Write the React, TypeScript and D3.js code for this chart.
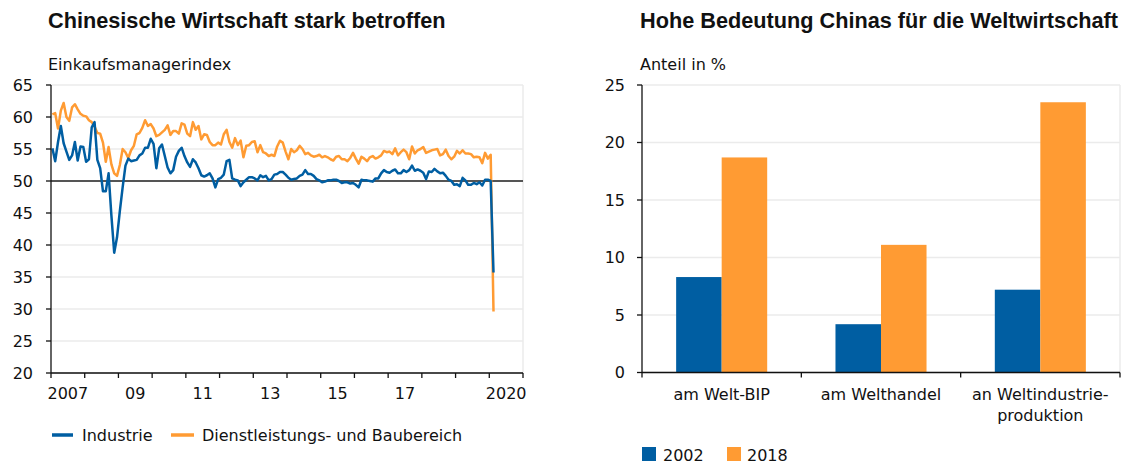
import React from 'react';
import * as d3 from 'd3';

// ---------- Left chart data (monthly, Jan 2007 – Feb 2020) ----------
const startYear = 2007;
const industrie = [
  55.1, 53.1, 56.1, 58.6, 55.9, 54.6, 53.3, 54.0, 56.1, 53.2, 55.4, 55.3,
  53.0, 53.4, 58.4, 59.2, 53.3, 52.0, 48.4, 48.4, 51.2, 44.6, 38.8, 41.2,
  45.3, 49.0, 52.4, 53.5, 53.1, 53.2, 53.3, 54.0, 54.3, 55.2, 55.2, 56.6,
  55.8, 52.0, 55.1, 55.7, 53.9, 52.1, 51.2, 51.7, 53.8, 54.7, 55.2, 53.9,
  52.9, 52.2, 53.4, 52.9, 52.0, 50.9, 50.7, 50.9, 51.2, 50.4, 49.0, 50.3,
  50.5, 51.0, 53.1, 53.3, 50.4, 50.2, 50.1, 49.2, 49.8, 50.2, 50.6, 50.6,
  50.4, 50.1, 50.9, 50.6, 50.8, 50.1, 50.3, 51.0, 51.1, 51.4, 51.4, 51.0,
  50.5, 50.2, 50.3, 50.4, 50.8, 51.0, 51.7, 51.1, 51.1, 50.8, 50.3, 50.1,
  49.8, 49.9, 50.1, 50.1, 50.2, 50.2, 50.0, 49.7, 49.8, 49.8, 49.6, 49.7,
  49.4, 49.0, 50.2, 50.1, 50.1, 50.0, 49.9, 50.4, 50.4, 51.2, 51.7, 51.4,
  51.3, 51.6, 51.8, 51.2, 51.2, 51.7, 51.4, 51.7, 52.4, 51.6, 51.8, 51.6,
  51.3, 50.3, 51.5, 51.4, 51.9, 51.5, 51.2, 51.3, 50.8, 50.2, 50.0, 49.4,
  49.5, 49.2, 50.5, 50.1, 49.4, 49.4, 49.7, 49.5, 49.8, 49.3, 50.2, 50.2,
  50.0, 35.7,
];
const dienst = [
  60.4, 60.6, 58.2, 61.0, 62.2, 60.0, 59.4, 61.5, 62.0, 61.2, 60.5, 60.2,
  60.1, 59.5, 59.2, 58.5, 57.5, 57.4, 56.0, 53.0, 55.3, 52.6, 51.2, 50.8,
  52.5, 55.0, 54.5, 53.6, 54.8, 55.5, 57.3, 57.5, 58.3, 59.5, 58.6, 58.9,
  58.2, 57.0, 57.2, 57.6, 58.0, 58.7, 57.2, 57.8, 57.8, 57.4, 59.0, 58.8,
  57.4, 57.0, 59.2, 58.0, 58.6, 56.5, 57.3, 57.2, 56.1, 55.6, 55.6, 56.0,
  55.7, 57.3, 58.0, 56.1, 55.2, 56.7, 55.6, 56.3, 53.7, 55.5, 55.6, 56.1,
  56.2, 54.5, 55.6, 54.5, 54.3, 53.9, 54.1, 53.9, 55.4, 56.3, 56.0, 54.6,
  53.4, 55.0, 54.5, 54.8, 55.5, 55.0, 54.2, 54.4, 54.0, 53.8, 53.9, 54.1,
  53.7, 53.9, 53.7, 53.4, 53.2, 53.8, 53.9, 53.4, 53.4, 53.1, 53.6, 54.4,
  53.5, 52.7, 53.8, 53.5, 53.1, 53.7, 53.9, 53.5, 53.7, 54.0, 54.7, 54.5,
  54.6, 54.2, 55.1, 54.0, 54.5, 54.9, 54.5, 53.4, 55.4, 54.3, 54.8, 55.0,
  55.3, 54.4, 54.6, 54.8, 54.9, 55.0, 54.0, 54.2, 54.9, 53.9, 53.4, 53.8,
  54.7, 54.3, 54.8, 54.3, 54.3, 54.2, 53.7, 53.8, 53.7, 52.8, 54.4, 53.5,
  54.1, 29.6,
];
const leftYTicks = [20, 25, 30, 35, 40, 45, 50, 55, 60, 65];
const xLabelYears = [2007, 2009, 2011, 2013, 2015, 2017, 2020];
const xLabelTexts = ['2007', '09', '11', '13', '15', '17', '2020'];
const lineSeries = ['Industrie', 'Dienstleistungs- und Baubereich'];

// ---------- Right chart data ----------
const categories = ['am Welt-BIP', 'am Welthandel', 'an Weltindustrie-\nproduktion'];
const values2002 = [8.3, 4.2, 7.2];
const values2018 = [18.7, 11.1, 23.5];
const barSeries = ['2002', '2018'];
const rightYTicks = [0, 5, 10, 15, 20, 25];

const BLUE = '#005ea2';
const ORANGE = '#ff9b33';
const GRID = '#ebebeb';
const FONT = "'DejaVu Sans', sans-serif";
const TITLE_FONT = "'Liberation Sans', Arial, sans-serif";

export default function App() {
  // Left scales
  const xL = d3.scaleLinear().domain([2007, 2021]).range([51, 523]);
  const yL = d3.scaleLinear().domain([20, 65]).range([373, 85]);
  const monthX = (i: number) => xL(startYear + (i + 0.5) / 12);
  const line = d3
    .line<number>()
    .x((_, i) => monthX(i))
    .y((d) => yL(d));
  const yearTicks = d3.range(2007, 2022);

  // Right scales
  const yR = d3.scaleLinear().domain([0, 25]).range([372.5, 85]);
  const x0 = d3.scaleBand<string>().domain(categories).range([642, 1120]);
  const x1 = d3
    .scaleBand<string>()
    .domain(barSeries)
    .range([0, x0.bandwidth()])
    .paddingOuter(0.75)
    .paddingInner(0);
  const barVals = [values2002, values2018];
  const barColors = [BLUE, ORANGE];

  return (
    <svg
      width={1121}
      height={464}
      style={{ position: 'absolute', left: 0, top: 0, background: '#fff' }}
      fontFamily={FONT}
    >
      {/* Titles */}
      <text x={48} y={28} fontFamily={TITLE_FONT} fontWeight="bold" fontSize={21.7} fill="#111">
        Chinesische Wirtschaft stark betroffen
      </text>
      <text x={640} y={28} fontFamily={TITLE_FONT} fontWeight="bold" fontSize={21.7} fill="#111">
        Hohe Bedeutung Chinas für die Weltwirtschaft
      </text>
      <text x={48} y={70} fontSize={16} fill="#111">Einkaufsmanagerindex</text>
      <text x={640} y={70} fontSize={16} fill="#111">Anteil in %</text>

      {/* ---------- Left chart ---------- */}
      <g>
        {leftYTicks.map((t) => (
          <line key={'g' + t} x1={51} x2={523} y1={yL(t)} y2={yL(t)} stroke={GRID} strokeWidth={1.5} />
        ))}
        <line x1={523} x2={523} y1={yL(65)} y2={yL(20)} stroke={GRID} strokeWidth={1.5} />
        {leftYTicks.map((t) => (
          <g key={'yt' + t}>
            <line x1={46} x2={51} y1={yL(t)} y2={yL(t)} stroke="#111" strokeWidth={1.3} />
            <text x={33} y={yL(t)} dy="0.36em" textAnchor="end" fontSize={16} fill="#111">
              {t}
            </text>
          </g>
        ))}
        <line x1={51} x2={523} y1={yL(50)} y2={yL(50)} stroke="#222" strokeWidth={1.5} />
        <path d={line(dienst) || ''} fill="none" stroke={ORANGE} strokeWidth={2.5} strokeLinejoin="round" />
        <path d={line(industrie) || ''} fill="none" stroke={BLUE} strokeWidth={2.5} strokeLinejoin="round" />
        <line x1={51} x2={51} y1={yL(65)} y2={yL(20)} stroke="#111" strokeWidth={1.3} />
        <line x1={51} x2={523} y1={yL(20)} y2={yL(20)} stroke="#111" strokeWidth={1.3} />
        {yearTicks.map((yr) => (
          <line key={'xt' + yr} x1={xL(yr)} x2={xL(yr)} y1={yL(20)} y2={yL(20) + 5} stroke="#111" strokeWidth={1.3} />
        ))}
        {xLabelYears.map((yr, i) => (
          <text key={'xl' + yr} x={xL(yr + 0.5)} y={399} textAnchor="middle" fontSize={16} fill="#111">
            {xLabelTexts[i]}
          </text>
        ))}
        {/* Legend */}
        <line x1={52} x2={73} y1={435} y2={435} stroke={BLUE} strokeWidth={3.5} />
        <text x={82} y={441} fontSize={16} fill="#111">{lineSeries[0]}</text>
        <line x1={171} x2={194} y1={435} y2={435} stroke={ORANGE} strokeWidth={3.5} />
        <text x={202} y={441} fontSize={16} fill="#111">{lineSeries[1]}</text>
      </g>

      {/* ---------- Right chart ---------- */}
      <g>
        {rightYTicks.map((t) => (
          <line key={'rg' + t} x1={642} x2={1120} y1={yR(t)} y2={yR(t)} stroke={GRID} strokeWidth={1.5} />
        ))}
        <line x1={1120} x2={1120} y1={yR(25)} y2={yR(0)} stroke={GRID} strokeWidth={1.5} />
        {categories.map((c, ci) =>
          barSeries.map((s, si) => {
            const v = barVals[si][ci];
            return (
              <rect
                key={c + s}
                x={(x0(c) as number) + (x1(s) as number)}
                y={yR(v)}
                width={x1.bandwidth()}
                height={yR(0) - yR(v)}
                fill={barColors[si]}
              />
            );
          })
        )}
        {rightYTicks.map((t) => (
          <g key={'ryt' + t}>
            <line x1={637} x2={642} y1={yR(t)} y2={yR(t)} stroke="#111" strokeWidth={1.3} />
            <text x={625} y={yR(t)} dy="0.36em" textAnchor="end" fontSize={16} fill="#111">
              {t}
            </text>
          </g>
        ))}
        <line x1={642} x2={642} y1={yR(25)} y2={yR(0)} stroke="#111" strokeWidth={1.3} />
        <line x1={642} x2={1120} y1={yR(0)} y2={yR(0)} stroke="#111" strokeWidth={1.3} />
        {[...categories.map((c) => x0(c) as number), 1120].map((xv, i) => (
          <line key={'rxt' + i} x1={xv} x2={xv} y1={yR(0)} y2={yR(0) + 5} stroke="#111" strokeWidth={1.3} />
        ))}
        {categories.map((c) => {
          const cx = (x0(c) as number) + x0.bandwidth() / 2;
          return c.split('\n').map((ln, li) => (
            <text key={c + li} x={cx} y={400 + li * 21} textAnchor="middle" fontSize={16} fill="#111">
              {ln}
            </text>
          ));
        })}
        {/* Legend */}
        <rect x={642} y={447} width={14} height={14} fill={BLUE} />
        <text x={663} y={461} fontSize={16} fill="#111">{barSeries[0]}</text>
        <rect x={727} y={447} width={14} height={14} fill={ORANGE} />
        <text x={747} y={461} fontSize={16} fill="#111">{barSeries[1]}</text>
      </g>
    </svg>
  );
}
